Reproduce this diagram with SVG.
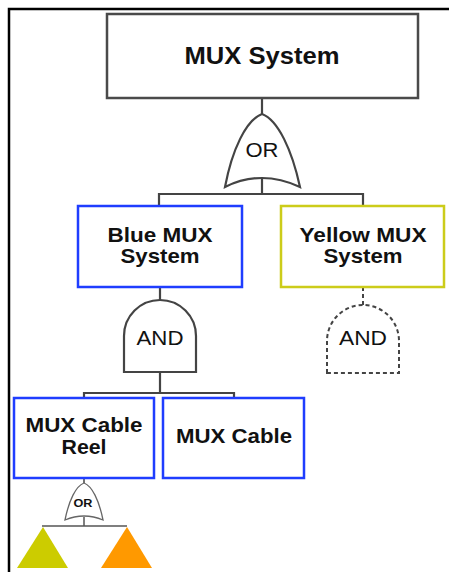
<svg xmlns="http://www.w3.org/2000/svg" width="449" height="572" viewBox="0 0 449 572">
<style>
.bg{fill:#ffffff}
.frame{fill:none;stroke:#000;stroke-width:2.5}
.box{fill:#fff;stroke:#4a4a4a;stroke-width:2.5}
.blue{fill:#fff;stroke:#1f3dff;stroke-width:2.5}
.yellow{fill:#fff;stroke:#cccc1a;stroke-width:2.5}
.gate{fill:#fff;stroke:#444;stroke-width:2.2}
.dgate{fill:#fff;stroke:#444;stroke-width:2;stroke-dasharray:4 3}
.sgate{fill:#fff;stroke:#666;stroke-width:1.3}
.wire{fill:none;stroke:#444;stroke-width:2.2}
.dwire{fill:none;stroke:#444;stroke-width:2;stroke-dasharray:4 3}
.t{font-family:"Liberation Sans",Arial,sans-serif;font-weight:bold;fill:#111;text-anchor:middle}
.g{font-family:"Liberation Sans",Arial,sans-serif;fill:#111;text-anchor:middle}
</style>
<rect class="bg" x="0" y="0" width="449" height="572"/>
<path class="frame" d="M9,572 V9 H449"/>
<g id="connectors">
<path class="wire" d="M262,98 V114"/>
<path class="wire" d="M262,179 V194 M159,206 V194 H363 V206"/>
<path class="wire" d="M160,287 V300"/>
<path class="wire" d="M160,372 V393 M84,398 V393 H234 V398"/>
<path class="dwire" d="M363,287 V305"/>
<path class="wire" d="M84,478 V483" style="stroke-width:1.5"/>
<path class="wire" d="M84,517 V526 M42,526 H127" style="stroke-width:1.5;stroke:#555"/>
</g>
<g id="mux-system">
<rect class="box" x="107" y="14" width="311" height="84"/>
<text class="t" x="262" y="64" font-size="23" textLength="155" lengthAdjust="spacingAndGlyphs">MUX System</text>
</g>
<g id="or-gate">
<path class="gate" d="M262,114 C278,120 292,150 300,187 C285,180 275,178 262,178 C249,178 239,180 225,187 C232,150 246,120 262,114 Z"/>
<text class="g" x="262" y="157" font-size="20" textLength="33" lengthAdjust="spacingAndGlyphs">OR</text>
</g>
<g id="blue-mux">
<rect class="blue" x="78" y="206" width="164" height="81"/>
<text class="t" x="160" y="242" font-size="21" textLength="105" lengthAdjust="spacingAndGlyphs">Blue MUX</text>
<text class="t" x="160" y="263" font-size="21" textLength="79" lengthAdjust="spacingAndGlyphs">System</text>
</g>
<g id="yellow-mux">
<rect class="yellow" x="281" y="206" width="163" height="81"/>
<text class="t" x="363" y="242" font-size="21" textLength="127" lengthAdjust="spacingAndGlyphs">Yellow MUX</text>
<text class="t" x="363" y="263" font-size="21" textLength="79" lengthAdjust="spacingAndGlyphs">System</text>
</g>
<g id="and-gate">
<path class="gate" d="M124,372 V336 A36,36 0 0 1 196,336 V372 Z"/>
<text class="g" x="160" y="345" font-size="20" textLength="47" lengthAdjust="spacingAndGlyphs">AND</text>
</g>
<g id="and-gate-dashed">
<path class="dgate" d="M327,373 V341 A36,36 0 0 1 399,341 V373 Z"/>
<text class="g" x="363" y="345" font-size="20" textLength="48" lengthAdjust="spacingAndGlyphs">AND</text>
</g>
<g id="mux-cable-reel">
<rect class="blue" x="14" y="398" width="140" height="80"/>
<text class="t" x="84" y="432" font-size="21" textLength="117" lengthAdjust="spacingAndGlyphs">MUX Cable</text>
<text class="t" x="84" y="454" font-size="21" textLength="45" lengthAdjust="spacingAndGlyphs">Reel</text>
</g>
<g id="mux-cable">
<rect class="blue" x="163" y="398" width="141" height="80"/>
<text class="t" x="234" y="443" font-size="21" textLength="116" lengthAdjust="spacingAndGlyphs">MUX Cable</text>
</g>
<g id="small-or-gate">
<path class="sgate" d="M84,483 C92,486 99,500 103,520 C96,517 90,516 84,516 C78,516 72,517 65,520 C69,500 76,486 84,483 Z"/>
<text class="t" x="83" y="507" font-size="11" textLength="19" lengthAdjust="spacingAndGlyphs">OR</text>
</g>
<g id="yellow-event">
<polygon points="43,527 68,568 17,568" fill="#cccc00"/>
</g>
<g id="orange-event">
<polygon points="127,527 152,568 101,568" fill="#ff9900"/>
</g>
</svg>
